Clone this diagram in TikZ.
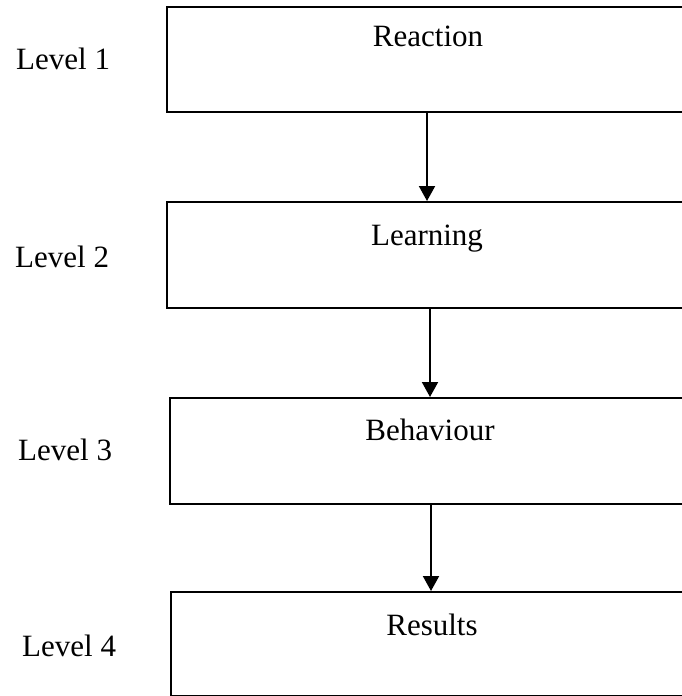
\documentclass[tikz,border=0pt]{standalone}
\usepackage{fontspec}
\setmainfont{Liberation Serif}
\usetikzlibrary{arrows.meta}
\begin{document}
\begin{tikzpicture}[x=1pt,y=-1pt,
  lvbox/.style={draw=black,line width=2pt,fill=none},
  boxtext/.style={font=\fontsize{31}{36}\selectfont,anchor=base,inner sep=0pt},
  lvtext/.style={font=\fontsize{31}{36}\selectfont,anchor=base west,inner sep=0pt},
  flow/.style={line width=2pt,-{Triangle[width=16pt,length=15pt]}}]
\useasboundingbox (0,0) rectangle (682,696);
\clip (0,0) rectangle (682,696);
% boxes (extend past the right edge)
\node[lvbox,inner sep=0pt,anchor=north west,minimum width=560pt,minimum height=105pt] (b1) at (166,6) {};
\node[lvbox,inner sep=0pt,anchor=north west,minimum width=560pt,minimum height=106pt] (b2) at (166,201) {};
\node[lvbox,inner sep=0pt,anchor=north west,minimum width=560pt,minimum height=106pt] (b3) at (169,397) {};
\node[lvbox,inner sep=0pt,anchor=north west,minimum width=560pt,minimum height=104pt] (b4) at (170,591) {};
% box texts
\node[boxtext] (t1) at (428,46) {Reaction};
\node[boxtext] (t2) at (427,245) {Learning};
\node[boxtext] (t3) at (430,440) {Behaviour};
\node[boxtext] (t4) at (432,635) {Results};
% level labels
\node[lvtext] (l1) at (16,69) {Level 1};
\node[lvtext] (l2) at (15,267) {Level 2};
\node[lvtext] (l3) at (18,460) {Level 3};
\node[lvtext] (l4) at (22,656) {Level 4};
% arrow x positions
\coordinate (a1) at (427,0);
\coordinate (a2) at (430,0);
\coordinate (a3) at (431,0);
\draw[flow] (b1.south -| a1) -- (b2.north -| a1);
\draw[flow] (b2.south -| a2) -- (b3.north -| a2);
\draw[flow] (b3.south -| a3) -- (b4.north -| a3);
\end{tikzpicture}
\end{document}
